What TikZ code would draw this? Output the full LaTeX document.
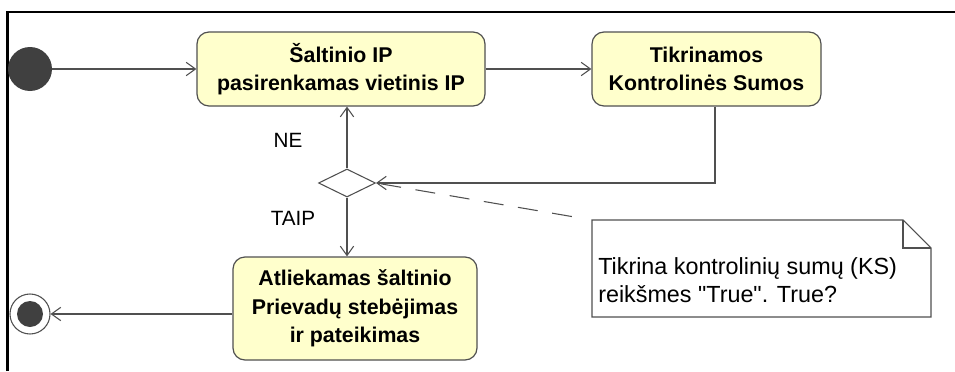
\documentclass[tikz,border=0pt]{standalone}
\usepackage{fontspec}
\setmainfont{Liberation Sans}
% plain family without TeX ligature mapping, so " stays a straight quote
\newfontfamily\notefont{Liberation Sans}
\usetikzlibrary{arrows.meta,shapes.geometric}
\definecolor{actfill}{RGB}{255,255,204}
\definecolor{edge}{RGB}{80,80,80}
\definecolor{dot}{RGB}{64,64,64}
\begin{document}
\begin{tikzpicture}[x=0.75pt,y=-0.75pt,
  action/.style={draw=edge,line width=0.9pt,fill=actfill,rounded corners=9pt,
    align=center,inner sep=0pt,font=\fontsize{16}{21.5}\selectfont\bfseries},
  flow/.style={draw=edge,line width=0.8pt,-{Straight Barb[length=7pt,width=10pt]}},
  guard/.style={font=\fontsize{15.5}{18}\selectfont,inner sep=0pt},
  notetext/.style={font=\notefont\fontsize{17.5}{21}\selectfont,align=left,inner sep=0pt,anchor=north west}]
\useasboundingbox (0,0) rectangle (955,371);
% frame
\draw[line width=1.6pt] (7.5,371) -- (7.5,12) -- (955,12);

% initial and final nodes
\node[circle,fill=dot,minimum size=44*0.75pt,inner sep=0pt] (start) at (30,69) {};
\node[circle,draw=edge,line width=0.8pt,fill=white,minimum size=40*0.75pt,inner sep=0pt] (fin) at (30,314) {};
\fill[dot] (fin.center) circle[radius=13*0.75pt];

% actions
\node[action,minimum width=288*0.75pt,minimum height=74*0.75pt] (b1) at (341,69)
  {Šaltinio IP\\pasirenkamas vietinis IP};
\node[action,minimum width=229*0.75pt,minimum height=74*0.75pt] (b2) at (706.5,69)
  {Tikrinamos\\Kontrolinės Sumos};
\node[action,minimum width=244*0.75pt,minimum height=103*0.75pt] (b3) at (355,308.5)
  {Atliekamas šaltinio\\Prievadų stebėjimas\\ir pateikimas};

% decision
\node[diamond,draw=edge,line width=0.8pt,fill=white,minimum width=57*0.75pt,
  minimum height=28*0.75pt,inner sep=0pt,aspect=2] (dia) at (347,183) {};

% note
\coordinate (nTL) at (592,220);
\draw[edge,line width=0.8pt,fill=white] (nTL) -- (903,220) -- (931,248) -- (931,317) -- (592,317) -- cycle;
\draw[edge,line width=0.8pt] (903,220) -- (903,248) -- (931,248);
\node[notetext] (ntext) at (598,257) {Tikrina kontrolinių sumų (KS)\\reikšmes "True". True?};

% flows
\draw[flow] (start) -- (b1.west |- start);
\draw[flow] (b1.east) -- (b2.west);
\draw[flow] (b2.south -| 715,0) |- (dia.east);
\draw[flow] (dia.north) -- (dia.north |- b1.south);
\draw[flow] (dia.south) -- (dia.south |- b3.north);
\draw[flow] (b3.west |- fin) -- (fin.east);
\draw[edge,line width=0.8pt,dash pattern=on 15pt off 11pt,shorten <=4pt,shorten >=10pt] (dia.east) -- (nTL);

% guards
\node[guard] (ne) at (288,140) {NE};
\node[guard] (taip) at (293,218) {TAIP};
\end{tikzpicture}
\end{document}
